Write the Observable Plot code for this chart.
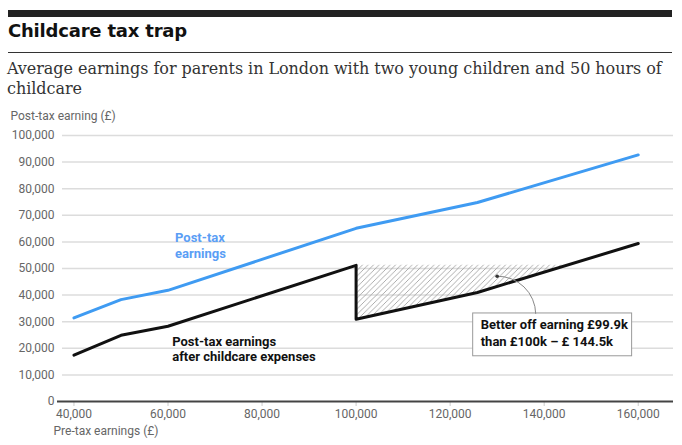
<!DOCTYPE html>
<html><head><meta charset="utf-8">
<script src="https://cdn.jsdelivr.net/npm/d3@7"></script>
<script src="https://cdn.jsdelivr.net/npm/@observablehq/plot@0.6"></script>
<style>
body{margin:0;background:#fff;width:682px;height:445px;overflow:hidden;position:relative;font-family:Roboto,sans-serif}
#bar{position:absolute;left:8px;top:10px;width:664px;height:7px;background:#222}
#title{position:absolute;left:8px;top:20px;font:700 18px "DejaVu Sans",sans-serif;color:#111;letter-spacing:-0.2px;white-space:nowrap}
#rule{position:absolute;left:8px;top:52px;width:664px;height:1px;background:#333}
#sub{position:absolute;left:7px;top:59px;width:672px;font:16px "DejaVu Serif",serif;line-height:20px;color:#333;letter-spacing:-0.05px}
#chart{position:absolute;left:0;top:105px}
</style></head><body>
<div id="bar"></div>
<div id="title">Childcare tax trap</div>
<div id="rule"></div>
<div id="sub">Average earnings for parents in London with two young children and 50 hours of childcare</div>
<div id="chart"></div>
<script>
const pretax = [40000, 50000, 60000, 100000, 125800, 160000];
const postTax = [31400, 38300, 41800, 65100, 74800, 92700];
const afterX = [40000, 50000, 60000, 100000, 100000, 125800, 160000];
const afterChildcare = [17400, 24900, 28300, 51200, 30900, 41000, 59400];
const hatchX = [100000, 125800, 144500];
const hatchLow = [30900, 41000, 51200];
const hatchHigh = [51200, 51200, 51200];
const xTicks = [40000, 60000, 80000, 100000, 120000, 140000, 160000];
const yTicks = [0, 10000, 20000, 30000, 40000, 50000, 60000, 70000, 80000, 90000, 100000];
const boxX = [124900, 158700];
const boxY = [17000, 33100];
const boxTextAt = [126500, 26200];
const boxText = "Better off earning £99.9k\nthan £100k – £ 144.5k";
const pointer = {from: [138200, 33100], to: [130000, 47100]};
const labelBlue = {x: 61500, y: 58900, text: "Post-tax\nearnings"};
const labelBlack = {x: 60900, y: 20000, text: "Post-tax earnings\nafter childcare expenses"};

const post = pretax.map((x, i) => ({x, y: postTax[i]}));
const after = afterX.map((x, i) => ({x, y: afterChildcare[i]}));
const hatch = hatchX.map((x, i) => ({x, lo: hatchLow[i], hi: hatchHigh[i]}));

const chart = Plot.plot({
  width: 682, height: 340,
  marginLeft: 57, marginRight: 9, marginTop: 30, marginBottom: 44,
  x: {domain: [36500, 167500]},
  y: {domain: [0, 100000]},
  style: {fontFamily: "Roboto, sans-serif", fontSize: "12px", color: "#666", background: "white", overflow: "visible"},
  marks: [
    Plot.gridY(yTicks.filter(d => d > 0), {stroke: "#dcdcdc", strokeOpacity: 1, strokeWidth: 1.5, insetLeft: 5}),
    Plot.axisY({ticks: yTicks, tickSize: 0, tickPadding: 3, tickFormat: d3.format(","), label: null, fill: "#666"}),
    Plot.axisX({ticks: xTicks, tickSize: 5, tickPadding: 3, tickFormat: d3.format(","), label: null, stroke: "#ccc", fill: "#666"}),
    Plot.areaY(hatch, {x: "x", y1: "lo", y2: "hi", fill: "url(#hatch)"}),
    Plot.ruleY([0], {stroke: "#444", strokeWidth: 2}),
    Plot.line(post, {x: "x", y: "y", stroke: "#3f9bf2", strokeWidth: 3}),
    Plot.line(after, {x: "x", y: "y", stroke: "#111", strokeWidth: 3}),
    Plot.rect([0], {x1: () => boxX[0], x2: () => boxX[1], y1: () => boxY[0], y2: () => boxY[1], fill: "white", stroke: "#999", strokeWidth: 1}),
    Plot.text([boxText], {x: () => boxTextAt[0], y: () => boxTextAt[1], text: d => d, textAnchor: "start", lineAnchor: "middle", lineHeight: 1.3, fontSize: 13, fontWeight: 700, fill: "#111"}),
    Plot.arrow([pointer], {x1: d => d.from[0], y1: d => d.from[1], x2: d => d.to[0], y2: d => d.to[1], bend: -45, headLength: 0, stroke: "#888", strokeWidth: 1}),
    Plot.dot([pointer], {x: d => d.to[0], y: d => d.to[1], r: 1.8, fill: "#333"}),
    Plot.text([labelBlue], {x: "x", y: "y", text: "text", textAnchor: "start", lineAnchor: "middle", lineHeight: 1.25, fontSize: 13, fontWeight: 700, fill: "#5a9ef5"}),
    Plot.text([labelBlack], {x: "x", y: "y", text: "text", textAnchor: "start", lineAnchor: "middle", lineHeight: 1.2, fontSize: 13, fontWeight: 700, fill: "#111"}),
    Plot.text(["Post-tax earning (£)"], {frameAnchor: "top-left", dx: -47, dy: -19, text: d => d, textAnchor: "start", lineAnchor: "middle", fontSize: 12, fill: "#666"}),
    Plot.text(["Pre-tax earnings (£)"], {frameAnchor: "bottom-left", dx: -4, dy: 30, text: d => d, textAnchor: "start", lineAnchor: "middle", fontSize: 12, fill: "#666"})
  ]
});

const ns = "http://www.w3.org/2000/svg";
const defs = document.createElementNS(ns, "defs");
defs.innerHTML = '<pattern id="hatch" patternUnits="userSpaceOnUse" width="5.5" height="5.5"><path d="M-1,1 l2,-2 M0,5.5 l5.5,-5.5 M4.5,6.5 l2,-2" stroke="#999" stroke-width="0.8"/></pattern>';
chart.insertBefore(defs, chart.firstChild);
document.getElementById("chart").appendChild(chart);
</script>
</body></html>
